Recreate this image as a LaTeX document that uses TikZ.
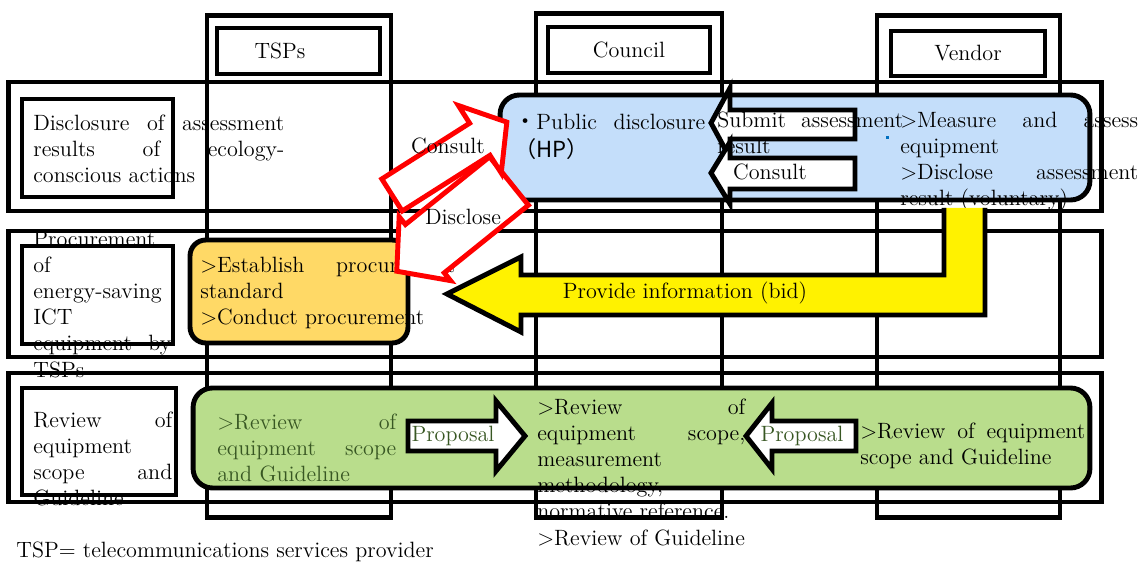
\documentclass[tikz,border=0pt]{standalone}
\usepackage{fontspec}
\newfontfamily\cjk{Noto Sans CJK JP}
\definecolor{discblue}{RGB}{196,222,250}
\definecolor{procorange}{RGB}{255,217,102}
\definecolor{revgreen}{RGB}{185,221,140}
\definecolor{txtgreen}{RGB}{56,87,35}
\definecolor{dotblue}{RGB}{0,112,192}
\tolerance=10000
\hbadness=10000
\hyphenpenalty=10000
\tikzset{
  base/.style={font=\fontsize{12.6}{14.9}\selectfont},
  para/.style={base, anchor=north west, inner sep=0pt, align=justify, text width=#1},
  word/.style={base, inner sep=0pt},
  frame/.style={draw, line width=2.8pt, inner sep=0pt, outer sep=0pt},
  panel/.style={inner sep=0pt, outer sep=0pt, rounded corners=11pt},
  panelline/.style={line width=2.8pt, rounded corners=11pt},
  blockarr/.style={draw, line width=2.8pt, fill=white, line join=miter},
  redblock/.style={draw=red, line width=2.8pt, fill=white, line join=miter}
}

\begin{document}
\begin{tikzpicture}[x=0.02cm, y=-0.02cm]
  \useasboundingbox (0,0) rectangle (1143,563);

  % lanes and their headers
  \node[frame, minimum width=3.68cm, minimum height=10.06cm] (tspcol) at (299,266.5) {};
  \node[frame, minimum width=3.72cm, minimum height=10.1cm] (councol) at (629,265.5) {};
  \node[frame, minimum width=3.66cm, minimum height=10.06cm] (vendcol) at (968.5,266.5) {};
  \node[frame, base, minimum width=3.26cm, minimum height=0.92cm] (tsphead) at (298.5,51) {TSPs\hspace*{0.74cm}};
  \node[frame, base, minimum width=3.24cm, minimum height=0.92cm] (counhead) at (629,50) {Council};
  \node[frame, base, minimum width=3.08cm, minimum height=0.9cm] (vendhead) at (968,53.5) {Vendor};

  % row titles
  \node[para=5.02cm] (disctxt) at (33,111.6) {\strut Disclosure of assessment\linebreak results of ecology-\linebreak conscious actions};
  \node[para=2.76cm] (proctxt) at (33,227.6) {\strut Procurement\linebreak of\linebreak energy-saving\linebreak ICT\linebreak equipment by\linebreak TSPs};
  \node[para=2.78cm] (revtxt) at (33,408.6) {\strut Review of\linebreak equipment\linebreak scope and\linebreak Guideline};

  % coloured panels
  \node[panel, fill=discblue, minimum width=11.8cm, minimum height=2.1cm] (disc) at (795,147.5) {};
  \node[panel, fill=procorange, rounded corners=9pt, minimum width=4.36cm, minimum height=2.06cm] (proc) at (299,291.5) {};
  \node[panel, fill=revgreen, minimum width=17.94cm, minimum height=2cm] (rev) at (641.5,438) {};

  \node[para=3.82cm] (pubtxt) at (514,110.6) {\strut{\cjk ・}Public disclosure\linebreak {\cjk （HP）}};
  \node[para=4.76cm] (vendtxt) at (900,108.6) {\strut>Measure and assess\linebreak equipment\par >Disclose assessment\linebreak result (voluntary)};
  \node[para=5.1cm] (proctsp) at (200,253.6) {\strut>Establish procurement\linebreak standard\par >Conduct procurement};
  \node[para=3.58cm, text=txtgreen] (revtsp) at (217,410.6) {\strut>Review of\linebreak equipment scope\linebreak and Guideline};
  \node[para=4.16cm] (revcoun) at (537,395.6) {\strut>Review of\linebreak equipment scope,\linebreak measurement\linebreak methodology,\linebreak normative reference.\par >Review of Guideline};
  \node[para=4.5cm] (revvend) at (860,419.6) {\strut>Review of equipment\linebreak scope and Guideline};

  \draw[panelline] (disc.south west) rectangle (disc.north east);
  \draw[panelline, rounded corners=9pt] (proc.south west) rectangle (proc.north east);
  \draw[panelline] (rev.south west) rectangle (rev.north east);

  % rows and their title boxes
  \node[frame, minimum width=21.88cm, minimum height=2.58cm] (row1) at (555,146.5) {};
  \node[frame, minimum width=21.88cm, minimum height=2.52cm] (row2) at (555,294) {};
  \node[frame, minimum width=21.88cm, minimum height=2.58cm] (row3) at (555,437.5) {};
  \node[frame, minimum width=3.02cm, minimum height=1.96cm] (lab1) at (97.5,148) {};
  \node[frame, minimum width=3.02cm, minimum height=1.96cm] (lab2) at (97.5,295) {};
  \node[frame, minimum width=3.08cm, minimum height=2.14cm] (lab3) at (99,441.5) {};

  % lane ends below the green panel
  \begin{scope}
    \clip (0,491) rectangle (1143,563);
    \draw[line width=2.8pt] (tspcol.south west) rectangle (tspcol.north east);
    \draw[line width=2.8pt] (councol.south west) rectangle (councol.north east);
    \draw[line width=2.8pt] (vendcol.south west) rectangle (vendcol.north east);
  \end{scope}

  % vendor to council
  \draw[blockarr] (711,123) -- (730,88) -- (730,110) -- (855,110) -- (855,139) -- (730,139) -- (730,158) -- cycle;
  \node[para=3.72cm] (subtxt) at (717,108.6) {\strut Submit assessment\linebreak result};
  \draw[blockarr] (711,173) -- (730,142) -- (730,158) -- (855,158) -- (855,189) -- (730,189) -- (730,204) -- cycle;
  \node[word] (consv) at (770,172) {Consult};
  \fill[dotblue] (885.5,136.5) rectangle ++(3,3);

  % TSPs and council
  \draw[redblock, shift={(509,181)}, rotate=-141.2] (0,-31) -- (108,-31) -- (108,-41) -- (144,0) -- (108,41) -- (108,31) -- (0,31) -- cycle;
  \draw[redblock, shift={(392,195)}, rotate=32.4] (0,-19) -- (104,-19) -- (104,-40) -- (136,0) -- (104,40) -- (104,19) -- (0,19) -- cycle;
  \node[word] (constsp) at (448,146) {Consult};
  \node[word] (disctsp) at (463,217) {Disclose};

  % bid information
  \fill[yellow] (447,294) -- (521,257) -- (521,275) -- (944,275) -- (944,208) -- (985,208) -- (985,315) -- (521,315) -- (521,332) -- cycle;
  \draw[line width=2.8pt, line join=miter] (944,208) -- (944,275) -- (521,275) -- (521,257) -- (447,294) -- (521,332) -- (521,315) -- (985,315) -- (985,208);
  \node[word] (bid) at (685,293) {Provide information (bid)};

  % proposals
  \draw[blockarr] (408,421) -- (496,421) -- (496,401) -- (525,436) -- (496,471) -- (496,451) -- (408,451) -- cycle;
  \node[word, text=txtgreen] (proptsp) at (453,436) {Proposal};
  \draw[blockarr] (746,436) -- (772,403) -- (772,421) -- (856,421) -- (856,451) -- (772,451) -- (772,469) -- cycle;
  \node[word, text=txtgreen] (propvend) at (802,436) {Proposal};

  \node[word, anchor=base west] (note) at (16,558) {TSP= telecommunications services provider};
\end{tikzpicture}
\end{document}
